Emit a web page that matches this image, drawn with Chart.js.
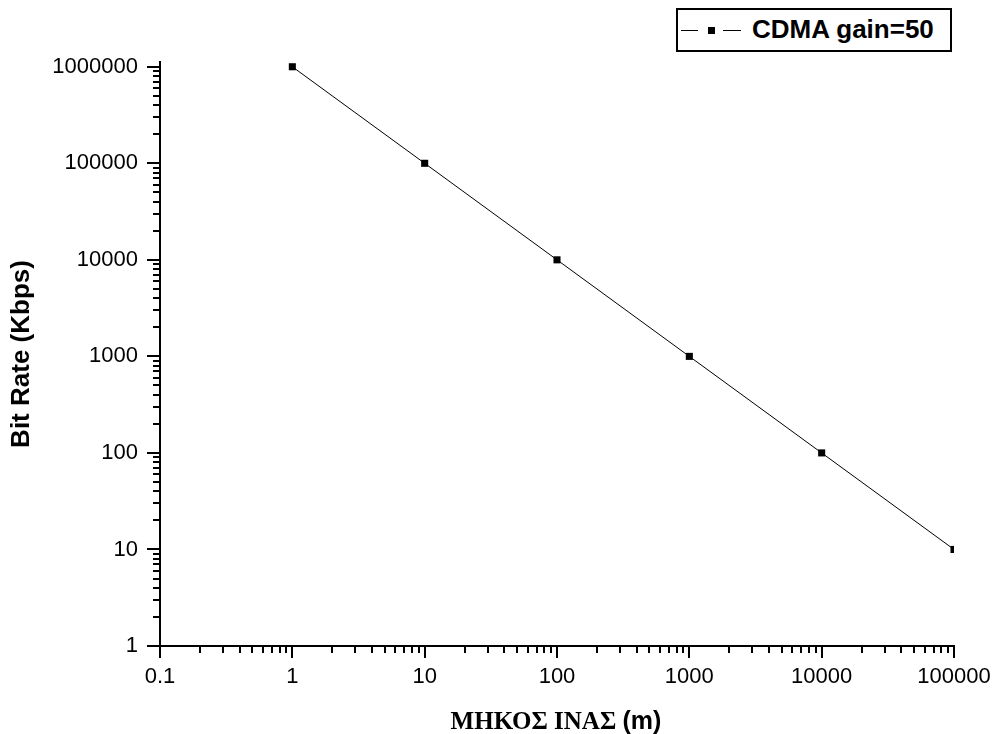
<!DOCTYPE html>
<html>
<head>
<meta charset="utf-8">
<script src="https://cdn.jsdelivr.net/npm/chart.js@4/dist/chart.umd.min.js"></script>
<style>
  html, body { margin:0; padding:0; background:#fff; }
  #wrap { position:relative; width:994px; height:734px; }
  #c { position:absolute; left:0; top:0; }
  #legend { position:absolute; left:676px; top:8px; width:272px; height:40px; border:2px solid #000; background:#fff; }
  #legend .ln { position:absolute; height:1px; background:#000; top:20px; }
  #legend .sq { position:absolute; width:7px; height:7px; background:#000; top:17px; left:30px; }
  #legend .tx { position:absolute; left:74px; top:4px; font:bold 26px "Liberation Sans", Arial, sans-serif; line-height:30px; color:#000; white-space:nowrap; }
  #xtitle { position:absolute; left:0; width:1112px; top:706px; text-align:center; font-size:25px; line-height:26px; color:#000; white-space:nowrap; }
  #xtitle .g { font:bold 25px "Liberation Serif", "Times New Roman", serif; }
  #xtitle .m { font:bold 25px "Liberation Sans", Arial, sans-serif; }
</style>
</head>
<body>
<div id="wrap">
  <canvas id="c" width="994" height="734"></canvas>
  <div id="legend"><div class="ln" style="left:3px;width:17px"></div><div class="sq"></div><div class="ln" style="left:45px;width:18px"></div><div class="tx">CDMA gain=50</div></div>
  <div id="xtitle"><span class="g">ΜΗΚΟΣ ΙΝΑΣ </span><span class="m">(m)</span></div>
</div>
<script>
const seriesName = 'CDMA gain=50';
const lengthsM = [1, 10, 100, 1000, 10000, 100000];
const bitRateKbps = [1000000, 100000, 10000, 1000, 100, 10];
const xTickValues = [0.1, 1, 10, 100, 1000, 10000, 100000];
const xTickLabels = ['0.1', '1', '10', '100', '1000', '10000', '100000'];
const yTickValues = [1, 10, 100, 1000, 10000, 100000, 1000000];
const yTickLabels = ['1', '10', '100', '1000', '10000', '100000', '1000000'];
const yTitle = 'Bit Rate (Kbps)';

const FONT = '"Liberation Sans", Arial, sans-serif';

function minorValues(min, max) {
  const out = [];
  for (let e = Math.floor(Math.log10(min)); e < Math.ceil(Math.log10(max)); e++) {
    for (let m = 2; m <= 9; m++) {
      const v = m * Math.pow(10, e);
      if (v > min && v < max) out.push(v);
    }
  }
  return out;
}

const minorTicks = {
  id: 'minorTicks',
  afterDraw(chart) {
    const ctx = chart.ctx;
    const xs = chart.scales.x, ys = chart.scales.y;
    const area = chart.chartArea;
    ctx.save();
    ctx.strokeStyle = '#000';
    ctx.lineWidth = 2;
    ctx.beginPath();
    minorValues(xs.min, xs.max).forEach(v => {
      const p = Math.round(xs.getPixelForValue(v));
      ctx.moveTo(p, area.bottom);
      ctx.lineTo(p, area.bottom + 7);
    });
    minorValues(ys.min, 1000000).forEach(v => {
      const p = Math.round(ys.getPixelForValue(v));
      ctx.moveTo(area.left, p);
      ctx.lineTo(area.left - 7, p);
    });
    ctx.stroke();
    ctx.restore();
  }
};

new Chart(document.getElementById('c'), {
  type: 'line',
  data: {
    datasets: [{
      label: seriesName,
      data: lengthsM.map((x, i) => ({ x: x, y: bitRateKbps[i] })),
      borderColor: '#000',
      borderWidth: 1,
      backgroundColor: '#000',
      pointStyle: 'rect',
      pointRadius: 5,
      pointBorderWidth: 0,
      pointBackgroundColor: '#000',
      tension: 0
    }]
  },
  options: {
    responsive: false,
    animation: false,
    devicePixelRatio: 1,
    layout: { padding: { left: 0, right: 40, top: 62, bottom: 0 } },
    plugins: { legend: { display: false }, tooltip: { enabled: false } },
    scales: {
      x: {
        type: 'logarithmic',
        position: 'bottom',
        min: 0.1, max: 100000,
        afterBuildTicks: s => { s.ticks = xTickValues.map(v => ({ value: v })); },
        afterFit: s => { s.height = 88; s.paddingLeft = 0; s.paddingRight = 0; },
        grid: { display: true, drawOnChartArea: false, drawTicks: true, tickLength: 12, color: '#000', lineWidth: 2 },
        border: { display: true, color: '#000', width: 2 },
        ticks: {
          autoSkip: false, maxRotation: 0, padding: 6, color: '#000',
          font: { family: FONT, size: 22 },
          callback: (v, i) => xTickLabels[i]
        },
        title: { display: false }
      },
      y: {
        type: 'logarithmic',
        position: 'left',
        min: 1, max: 1120000,
        afterBuildTicks: s => { s.ticks = yTickValues.map(v => ({ value: v })); },
        afterFit: s => { s.width = 160; s.paddingTop = 0; s.paddingBottom = 0; },
        grid: { display: true, drawOnChartArea: false, drawTicks: true, tickLength: 13, color: '#000', lineWidth: 2 },
        border: { display: true, color: '#000', width: 2 },
        ticks: {
          autoSkip: false, padding: 9, color: '#000',
          font: { family: FONT, size: 22 },
          callback: (v, i) => yTickLabels[i]
        },
        title: {
          display: true, text: yTitle, color: '#000',
          font: { family: FONT, size: 26, weight: 'bold' },
          padding: { top: 6, bottom: 0 }
        }
      }
    }
  },
  plugins: [minorTicks]
});
</script>
</body>
</html>
